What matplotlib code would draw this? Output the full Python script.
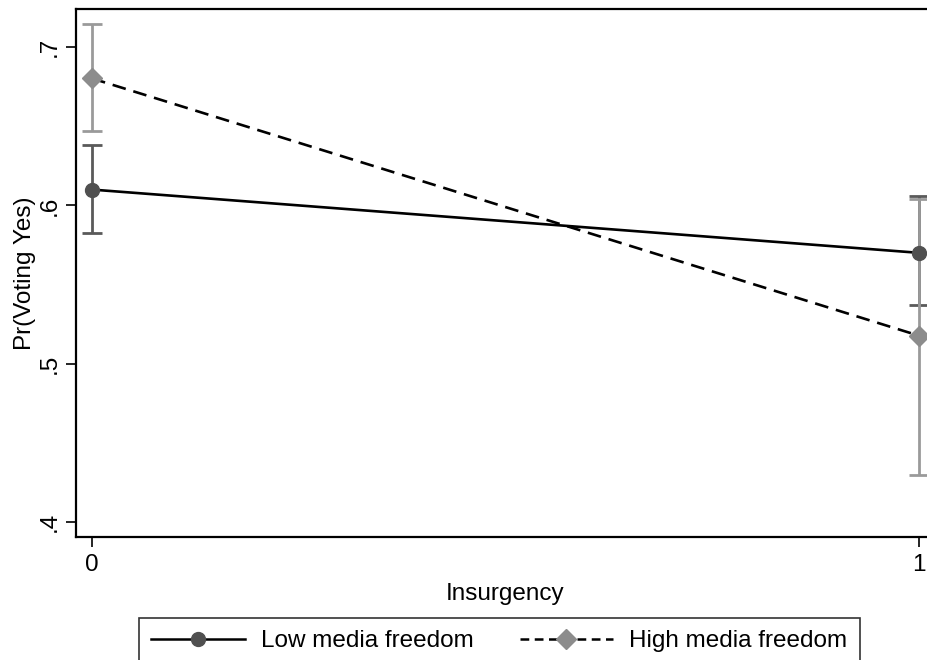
import matplotlib
matplotlib.use("Agg")
import matplotlib.pyplot as plt
from matplotlib.lines import Line2D

plt.rcParams['font.family'] = ['Liberation Sans', 'DejaVu Sans']

x = [0, 1]
low_mean = [0.610, 0.570]
low_lo = [0.5825, 0.5367]
low_hi = [0.6384, 0.6057]
high_mean = [0.6803, 0.5176]
high_lo = [0.6468, 0.4292]
high_hi = [0.7147, 0.6040]

yticks = [0.4, 0.5, 0.6, 0.7]
yticklabels = ['.4', '.5', '.6', '.7']
xticks = [0, 1]
xticklabels = ['0', '1']

W, H = 928, 660
fig = plt.figure(figsize=(W / 100, H / 100), dpi=100)
left, right, top, bottom = 76.5, 934.5, 9, 537
ax = fig.add_axes([left / W, 1 - bottom / H, (right - left) / W, (bottom - top) / H])

c_low_err = '#5a5a5a'
c_low_mk = '#505050'
c_high_err = '#9a9a9a'
c_high_mk = '#8c8c8c'
FS = 17.5

ax.errorbar(x, low_mean,
            yerr=[[m - l for m, l in zip(low_mean, low_lo)], [h - m for m, h in zip(low_mean, low_hi)]],
            fmt='none', ecolor=c_low_err, elinewidth=2, capsize=7, capthick=2, zorder=2)
ax.errorbar(x, high_mean,
            yerr=[[m - l for m, l in zip(high_mean, high_lo)], [h - m for m, h in zip(high_mean, high_hi)]],
            fmt='none', ecolor=c_high_err, elinewidth=2, capsize=7, capthick=2, zorder=2)
ax.plot(x, low_mean, color='black', lw=1.9, zorder=3)
ax.plot(x, high_mean, color='black', lw=1.9, ls=(0, (5.2, 3.0)), zorder=3)
ax.plot(x, low_mean, 'o', color=c_low_mk, ms=10, mec=c_low_mk, zorder=4)
ax.plot(x, high_mean, 'D', color=c_high_mk, ms=10, mec=c_high_mk, zorder=4)

ax.set_xlim(-0.0187, 1.0187)
ax.set_ylim(0.3903, 0.7242)
ax.set_xticks(xticks)
ax.set_xticklabels(xticklabels, fontsize=FS)
ax.set_yticks(yticks)
ax.set_yticklabels(yticklabels, fontsize=FS, rotation=90, va='center')
ax.tick_params(axis='both', length=7, width=1.2, color='black')
ax.tick_params(axis='x', pad=5)
ax.tick_params(axis='y', pad=4)
for s in ax.spines.values():
    s.set_linewidth(1.6)
ax.set_xlabel('Insurgency', fontsize=FS, labelpad=5)
ax.set_ylabel('Pr(Voting Yes)', fontsize=FS, labelpad=2.5)

handles = [
    Line2D([], [], color='black', lw=1.8, marker='o', ms=10, mfc=c_low_mk, mec=c_low_mk),
    Line2D([], [], color='black', lw=1.8, ls=(0, (3.5, 2.2)), marker='D', ms=10, mfc=c_high_mk, mec=c_high_mk),
]
leg = fig.legend(handles, ['Low media freedom', 'High media freedom'],
                 loc='upper left', bbox_to_anchor=(139 / W, 1 - 618 / H),
                 ncol=2, fontsize=FS, frameon=True, fancybox=False,
                 edgecolor='black', handlelength=3.85, columnspacing=1.9,
                 borderpad=0.5, handletextpad=0.66, borderaxespad=0)
leg.get_frame().set_linewidth(1.2)

fig.savefig('out.png', dpi=100)
